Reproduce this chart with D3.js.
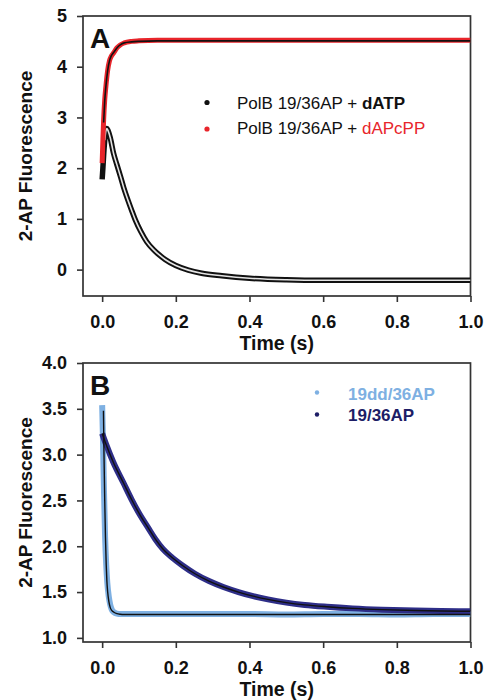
<!DOCTYPE html>
<html>
<head>
<meta charset="utf-8">
<script src="https://cdn.jsdelivr.net/npm/d3@7/dist/d3.min.js"></script>
<style>
body{margin:0;background:#fff;}
svg{display:block;font-family:"Liberation Sans",Arial,sans-serif;}
.tick text{font-size:18px;font-weight:bold;fill:#111;}
.tick line{stroke:#333;stroke-width:1.6;}
</style>
</head>
<body>
<svg id="chart" width="486" height="700"></svg>
<script>
// ---- data ----
// panel A : PolB 19/36AP + dATP (black data)
const tDATP=[0,0.002,0.004,0.007,0.010,0.0128,0.016,0.022,0.031,0.040,0.050,0.058,0.070,0.080,0.090,0.105,0.121,0.140,0.155,0.171,0.200,0.234,0.270,0.325,0.40,0.50,0.60,0.70,0.80,0.90,1.0];
const vDATP=[1.78,2.00,2.25,2.55,2.73,2.78,2.74,2.60,2.29,2.07,1.83,1.63,1.37,1.17,0.98,0.75,0.55,0.39,0.29,0.20,0.08,-0.01,-0.07,-0.12,-0.17,-0.20,-0.21,-0.21,-0.21,-0.21,-0.21];
// panel A : PolB 19/36AP + dAPcPP (red data) and its fit
const tAPCPP=[0,0.002,0.004,0.007,0.010,0.015,0.020,0.025,0.031,0.040,0.049,0.060,0.080,0.10,0.15,0.20,0.30,0.50,0.70,1.0];
const vAPCPP=[2.10,2.55,2.95,3.35,3.60,3.93,4.12,4.21,4.27,4.37,4.43,4.47,4.50,4.51,4.52,4.52,4.52,4.52,4.52,4.52];
const tFitAPCPP=[0.004,0.007,0.010,0.015,0.020,0.025,0.031,0.040,0.049,0.060,0.080,0.10,0.15,0.20,0.50,1.0];
const vFitAPCPP=[2.90,3.33,3.60,3.93,4.12,4.22,4.28,4.37,4.43,4.47,4.49,4.50,4.51,4.51,4.51,4.51];
const legendA=['PolB 19/36AP + ','dATP','dAPcPP'];

// panel B : 19dd/36AP (light blue) and fit
const tDD=[0,0.002,0.005,0.008,0.011,0.014,0.018,0.022,0.026,0.032,0.040,0.050,0.070,0.10,0.20,0.30,0.40,0.50,0.60,0.70,0.80,0.90,1.0];
const vDD=[3.54,3.20,2.60,2.10,1.80,1.60,1.45,1.36,1.31,1.28,1.265,1.26,1.26,1.26,1.26,1.26,1.26,1.255,1.26,1.26,1.255,1.26,1.26];
const tFitDD=[0.0035,0.005,0.007,0.009,0.011,0.0127,0.015,0.018,0.022,0.026,0.032,0.040,0.049,0.060,1.0];
const vFitDD=[3.48,3.00,2.50,2.10,1.80,1.63,1.50,1.40,1.33,1.30,1.28,1.265,1.258,1.255,1.255];
// panel B : 19/36AP (navy)
const tAP=[0,0.010,0.030,0.058,0.080,0.103,0.125,0.144,0.165,0.189,0.220,0.252,0.290,0.329,0.370,0.410,0.450,0.500,0.550,0.610,0.680,0.760,0.850,0.920,1.0];
const vAP=[3.23,3.12,2.92,2.69,2.51,2.34,2.20,2.08,1.97,1.88,1.785,1.70,1.62,1.555,1.50,1.455,1.42,1.385,1.36,1.34,1.322,1.308,1.298,1.293,1.29];
const legendB=['19dd/36AP','19/36AP'];

const xTicks=[0,0.2,0.4,0.6,0.8,1.0];
const yTicksA=[0,1,2,3,4,5];
const yTicksB=[1.0,1.5,2.0,2.5,3.0,3.5,4.0];

const RED='#e8252b', LBLUE='#7eb0e2', NAVY='#2e2e88';
const svg=d3.select('#chart');
const zip=(t,v)=>t.map((d,i)=>[d,v[i]]);

function panel(id,top,bottom,yDom,yTicks,yFmt,letter){
  const x=d3.scaleLinear().domain([-0.052,1.0]).range([83,470.5]);
  const y=d3.scaleLinear().domain(yDom).range([bottom,top]);
  const g=svg.append('g');
  g.append('clipPath').attr('id',id).append('rect')
    .attr('x',83).attr('y',top).attr('width',387.5).attr('height',bottom-top);
  const gx=g.append('g').attr('transform',`translate(0,${bottom})`)
    .call(d3.axisBottom(x).tickValues(xTicks).tickFormat(d3.format('.1f')).tickSize(6).tickPadding(13).tickSizeOuter(0));
  gx.select('.domain').remove();
  const gy=g.append('g').attr('transform','translate(83,0)')
    .call(d3.axisLeft(y).tickValues(yTicks).tickFormat(yFmt).tickSize(6).tickPadding(10).tickSizeOuter(0));
  gy.select('.domain').remove();
  g.append('rect').attr('x',83).attr('y',top).attr('width',387.5).attr('height',bottom-top)
    .attr('fill','none').attr('stroke','#333').attr('stroke-width',1.7);
  g.append('text').attr('x',(83+470.5)/2).attr('y',bottom+54).attr('text-anchor','middle')
    .attr('font-size',19.5).attr('font-weight','bold').attr('fill','#111').text('Time (s)');
  g.append('text').attr('transform',`translate(32,${(top+bottom)/2}) rotate(-90)`).attr('text-anchor','middle')
    .attr('font-size',19).attr('font-weight','bold').attr('fill','#111').text('2-AP Fluorescence');
  g.append('text').attr('x',90).attr('y',top+32).attr('font-size',28).attr('font-weight','bold')
    .attr('fill','#111').text(letter);
  const plot=g.append('g').attr('clip-path',`url(#${id})`);
  const line=d3.line().x(d=>x(d[0])).y(d=>y(d[1])).curve(d3.curveMonotoneX);
  return {x,y,g,plot,line};
}

// ---- panel A ----
const A=panel('clipA',16,296,[-0.52,5],yTicksA,d3.format('d'),'A');
A.plot.append('path').datum(zip(tDATP,vDATP)).attr('d',A.line)
  .attr('fill','none').attr('stroke','#111').attr('stroke-width',5.5).attr('stroke-linejoin','round');
A.plot.append('path').datum(zip(tDATP.slice(3),vDATP.slice(3))).attr('d',A.line)
  .attr('fill','none').attr('stroke','#e4e4e4').attr('stroke-width',1.6);
A.plot.append('path').datum(zip(tAPCPP,vAPCPP)).attr('d',A.line)
  .attr('fill','none').attr('stroke',RED).attr('stroke-width',5).attr('stroke-linejoin','round');
A.plot.append('path').datum(zip(tFitAPCPP,vFitAPCPP)).attr('d',A.line)
  .attr('fill','none').attr('stroke','#111').attr('stroke-width',1.6);

const legA=A.g.append('g');
[[102.5,'#111'],[129,RED]].forEach(([cy,c])=>legA.append('circle').attr('cx',207).attr('cy',cy).attr('r',2.6).attr('fill',c));
const la1=legA.append('text').attr('x',237).attr('y',108.5).attr('font-size',17).attr('fill','#111');
la1.append('tspan').text(legendA[0]);
la1.append('tspan').attr('font-weight','bold').text(legendA[1]);
const la2=legA.append('text').attr('x',237).attr('y',134).attr('font-size',17).attr('fill','#111');
la2.append('tspan').text(legendA[0]);
la2.append('tspan').attr('fill',RED).text(legendA[2]);

// ---- panel B ----
const B=panel('clipB',363,642,[0.955,4.0],yTicksB,d3.format('.1f'),'B');
B.plot.append('path').datum(zip(tDD,vDD)).attr('d',B.line)
  .attr('fill','none').attr('stroke',LBLUE).attr('stroke-width',6).attr('stroke-linejoin','round');
B.plot.append('path').datum(zip(tAP,vAP)).attr('d',B.line)
  .attr('fill','none').attr('stroke',NAVY).attr('stroke-width',6).attr('stroke-linejoin','round');
B.plot.append('path').datum(zip(tFitDD,vFitDD)).attr('d',B.line)
  .attr('fill','none').attr('stroke','#111').attr('stroke-width',1.4);
B.plot.append('path').datum(zip(tAP,vAP)).attr('d',B.line)
  .attr('fill','none').attr('stroke','#111').attr('stroke-width',1.4);

const legB=B.g.append('g');
[[392.5,LBLUE,legendB[0],399.5],[414.5,'#1d1d66',legendB[1],420.5]].forEach(([cy,c,txt,by])=>{
  legB.append('circle').attr('cx',317).attr('cy',cy).attr('r',2.2).attr('fill',c);
  legB.append('text').attr('x',348).attr('y',by).attr('font-size',17).attr('font-weight','bold').attr('fill',c).text(txt);
});
</script>
</body>
</html>
